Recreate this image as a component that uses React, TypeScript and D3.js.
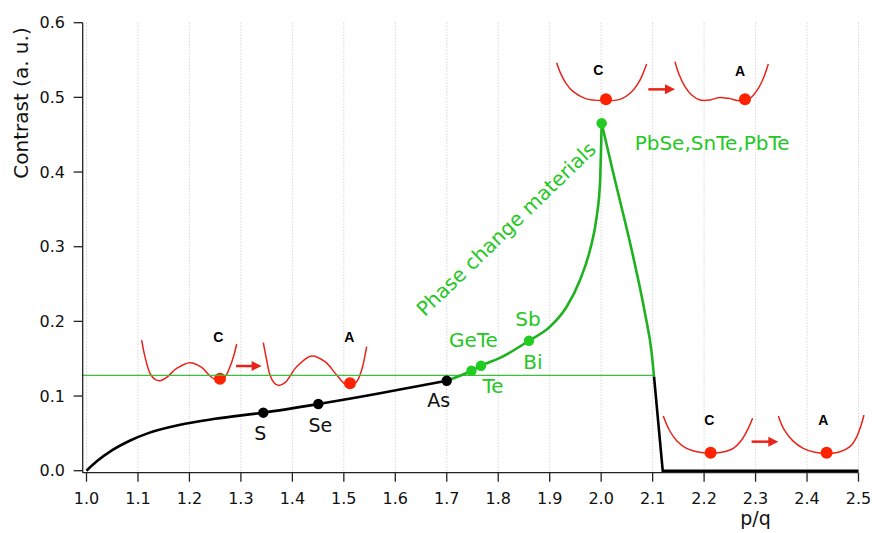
import React from "react";
import * as d3 from "d3";

// ---------- data ----------
const xTickValues = d3.range(10, 26).map((d) => d / 10);
const yTickValues = [0, 0.1, 0.2, 0.3, 0.4, 0.5, 0.6];

// black branch (1.0 -> As)
const blackLeft: [number, number][] = [
  [1.0, 0.0],
  [1.02, 0.0125],
  [1.05, 0.0275],
  [1.085, 0.0405],
  [1.12, 0.0503],
  [1.18, 0.0612],
  [1.25, 0.0695],
  [1.3435, 0.0777],
  [1.4504, 0.0893],
  [1.5703, 0.1037],
  [1.635, 0.1122],
  [1.6999, 0.1205],
];
// green rising branch (As -> peak)
const greenRise: [number, number][] = [
  [1.6999, 0.1205],
  [1.748, 0.1339],
  [1.7665, 0.1406],
  [1.8034, 0.151],
  [1.8598, 0.1741],
  [1.9006, 0.1929],
  [1.933, 0.2196],
  [1.9589, 0.2554],
  [1.9783, 0.2956],
  [1.9913, 0.3402],
  [1.9977, 0.3849],
  [2.001, 0.4653],
];
// green falling branch (peak -> plateau crossing)
const greenFall: [number, number][] = [
  [2.001, 0.4653],
  [2.0236, 0.3983],
  [2.0593, 0.2956],
  [2.0851, 0.2108],
  [2.0982, 0.1572],
  [2.1027, 0.1259],
];
// black drop and zero plateau
const blackRight: [number, number][] = [
  [2.1027, 0.1259],
  [2.1196, 0.0],
  [2.5, 0.0],
];
const plateauLevel = 0.1278;
const plateauRange = [1.0, 2.1027];

const blackPoints = [
  { name: "S", x: 1.3435, y: 0.0777 },
  { name: "Se", x: 1.4504, y: 0.0893 },
  { name: "As", x: 1.6999, y: 0.1205 },
];
const greenPoints = [
  { name: "GeTe", x: 1.748, y: 0.1339 },
  { name: "Te", x: 1.7665, y: 0.1406 },
  { name: "Sb", x: 1.8598, y: 0.1741 },
  { name: "PbSe,SnTe,PbTe", x: 2.001, y: 0.4653 },
];

// schematic potential-energy insets (local units, 3 units = 1 px)
type Pt = [number, number];
const inset1C: Pt[] = [[35,60],[45,110],[60,160],[75,178],[90,182],[110,172],[140,145],[180,128],[215,142],[240,168],[262,180],[285,170],[300,140],[312,105],[320,72]];
const inset1A: Pt[] = [[400,68],[410,120],[420,165],[432,188],[445,196],[465,188],[500,140],[545,108],[585,125],[620,165],[645,192],[662,198],[680,185],[695,150],[710,80]];
const inset2C: Pt[] = [[50,38],[62,70],[78,100],[100,125],[135,145],[190,152],[240,148],[275,125],[300,90],[320,42]];
const inset2A: Pt[] = [[405,35],[418,75],[435,110],[455,135],[480,150],[510,150],[535,143],[565,145],[600,152],[630,145],[655,115],[672,80],[685,42]];
const inset3C: Pt[] = [[40,48],[58,90],[80,122],[110,145],[150,157],[180,160],[215,157],[250,145],[275,120],[295,85],[308,55]];
const inset3A: Pt[] = [[385,48],[403,90],[428,122],[460,145],[495,157],[530,160],[570,155],[600,140],[618,115],[632,80],[642,45]];

const insets = [
  { anchor: [1.0845, 0.2018], C: inset1C, A: inset1A, dotC: [270, 176], dotA: [660, 190], labC: [265, 52], labA: [658, 52], arrow: [318, 395, 138] },
  { anchor: [1.8811, 0.5634], C: inset2C, A: inset2A, dotC: [198, 148], dotA: [615, 148], labC: [175, 60], labA: [600, 62], arrow: [325, 405, 118] },
  { anchor: [2.0948, 0.0947], C: inset3C, A: inset3A, dotC: [182, 158], dotA: [530, 158], labC: [178, 60], labA: [520, 60], arrow: [305, 385, 125] },
];

// ---------- component ----------
export default function App() {
  const W = 874, H = 533;
  const x = d3.scaleLinear().domain([1.0, 2.5]).range([86.5, 858.5]);
  const y = d3.scaleLinear().domain([0, 0.6]).range([470.7, 22.7]);
  const axisX = 82.7;
  const axisY = 472.7;

  const lineMono = d3.line<[number, number]>().x((d) => x(d[0])).y((d) => y(d[1])).curve(d3.curveMonotoneX);
  const lineLin = d3.line<[number, number]>().x((d) => x(d[0])).y((d) => y(d[1]));
  const local = d3.scaleLinear().domain([0, 3]).range([0, 1]);
  const insetLine = d3.line<Pt>().x((d) => local(d[0])).y((d) => local(d[1])).curve(d3.curveCatmullRom);

  const green = "#1fb21f";
  const greenText = "#25c725";
  const red = "#e8241a";
  const font = "'DejaVu Sans', Verdana, sans-serif";

  const blackOff: Record<string, [number, number]> = { S: [-3, 27], Se: [2, 28], As: [-8, 26] };
  const greenOff: Record<string, [number, number, string]> = {
    GeTe: [2, -24, "middle"],
    Te: [12, 27, "middle"],
    Sb: [-1, -15, "middle"],
    "PbSe,SnTe,PbTe": [33, 27, "start"],
  };

  return (
    <svg width={W} height={H} style={{ position: "absolute", left: 0, top: 0, background: "#fff" }}>
      {/* vertical dotted grid */}
      {xTickValues.map((v) => (
        <line key={"g" + v} x1={x(v)} x2={x(v)} y1={y(0.6)} y2={y(0)} stroke="#c4c4c4" strokeWidth={1} strokeDasharray="1,2" />
      ))}

      {/* insets */}
      {insets.map((ins, i) => {
        const tx = x(ins.anchor[0]);
        const ty = y(ins.anchor[1]);
        const [ax0, ax1, ay] = ins.arrow;
        return (
          <g key={"ins" + i} transform={`translate(${tx},${ty})`}>
            <path d={insetLine(ins.C) || ""} fill="none" stroke={red} strokeWidth={1.5} />
            <path d={insetLine(ins.A) || ""} fill="none" stroke={red} strokeWidth={1.5} />
            <line x1={local(ax0)} x2={local(ax1) - 8} y1={local(ay)} y2={local(ay)} stroke={red} strokeWidth={2.5} />
            <path d={`M${local(ax1)},${local(ay)} L${local(ax1) - 10},${local(ay) - 5} L${local(ax1) - 10},${local(ay) + 5} Z`} fill={red} />
            <circle cx={local(ins.dotC[0])} cy={local(ins.dotC[1])} r={6} fill="#ff2200" />
            <circle cx={local(ins.dotA[0])} cy={local(ins.dotA[1])} r={6} fill="#ff2200" />
            <text x={local(ins.labC[0])} y={local(ins.labC[1]) + 5} textAnchor="middle" fontFamily="'Liberation Sans', Arial, sans-serif" fontWeight="bold" fontSize={14} fill="#000">C</text>
            <text x={local(ins.labA[0])} y={local(ins.labA[1]) + 5} textAnchor="middle" fontFamily="'Liberation Sans', Arial, sans-serif" fontWeight="bold" fontSize={14} fill="#000">A</text>
          </g>
        );
      })}

      {/* plateau line */}
      <line x1={axisX} x2={x(plateauRange[1])} y1={y(plateauLevel)} y2={y(plateauLevel)} stroke="#3cc03c" strokeWidth={1.3} />

      {/* curves */}
      <path d={lineMono(blackLeft) || ""} fill="none" stroke="#000" strokeWidth={2.6} />
      <path d={lineMono(greenRise) || ""} fill="none" stroke={green} strokeWidth={2.6} />
      <path d={lineMono(greenFall) || ""} fill="none" stroke={green} strokeWidth={2.6} />
      <path d={lineLin(blackRight) || ""} fill="none" stroke="#000" strokeWidth={2.6} />

      {/* points */}
      {blackPoints.map((p) => (
        <g key={p.name}>
          <circle cx={x(p.x)} cy={y(p.y)} r={5.2} fill="#000" />
          <text x={x(p.x) + blackOff[p.name][0]} y={y(p.y) + blackOff[p.name][1]} textAnchor="middle" fontFamily={font} fontSize={19} fill="#111">{p.name}</text>
        </g>
      ))}
      {greenPoints.map((p) => (
        <g key={p.name}>
          <circle cx={x(p.x)} cy={y(p.y)} r={5.2} fill="#22cc22" />
          <text x={x(p.x) + greenOff[p.name][0]} y={y(p.y) + greenOff[p.name][1]} textAnchor={greenOff[p.name][2] as any} fontFamily={font} fontSize={20} fill={greenText}>{p.name}</text>
        </g>
      ))}
      {/* Bi shares the Sb point */}
      <text x={x(1.8598) + 4} y={y(0.1741) + 28} textAnchor="middle" fontFamily={font} fontSize={20} fill={greenText}>Bi</text>
      <text transform={`translate(${x(1.8248)},${y(0.317)}) rotate(-44)`} textAnchor="middle" fontFamily={font} fontSize={20} fill={greenText}>Phase change materials</text>

      {/* axes */}
      <line x1={axisX} x2={axisX} y1={y(0.6)} y2={axisY} stroke="#222" strokeWidth={1.3} />
      <line x1={axisX} x2={x(2.5)} y1={axisY} y2={axisY} stroke="#222" strokeWidth={1.3} />
      {yTickValues.map((v) => (
        <g key={"yt" + v}>
          <line x1={axisX - 9} x2={axisX} y1={y(v)} y2={y(v)} stroke="#222" strokeWidth={1.3} />
          <text x={65} y={y(v)} dy="0.35em" textAnchor="end" fontFamily={font} fontSize={16} fill="#111">{v.toFixed(1)}</text>
        </g>
      ))}
      {xTickValues.map((v) => (
        <g key={"xt" + v}>
          <line x1={x(v)} x2={x(v)} y1={axisY} y2={axisY + 9} stroke="#222" strokeWidth={1.3} />
          <text x={x(v)} y={504} textAnchor="middle" fontFamily={font} fontSize={16} fill="#111">{v.toFixed(1)}</text>
        </g>
      ))}
      <text transform="translate(28,103) rotate(-90)" textAnchor="middle" fontFamily={font} fontSize={20} fill="#111">Contrast (a. u.)</text>
      <text x={x(2.3)} y={525} textAnchor="middle" fontFamily={font} fontSize={19} fill="#111">p/q</text>
    </svg>
  );
}
